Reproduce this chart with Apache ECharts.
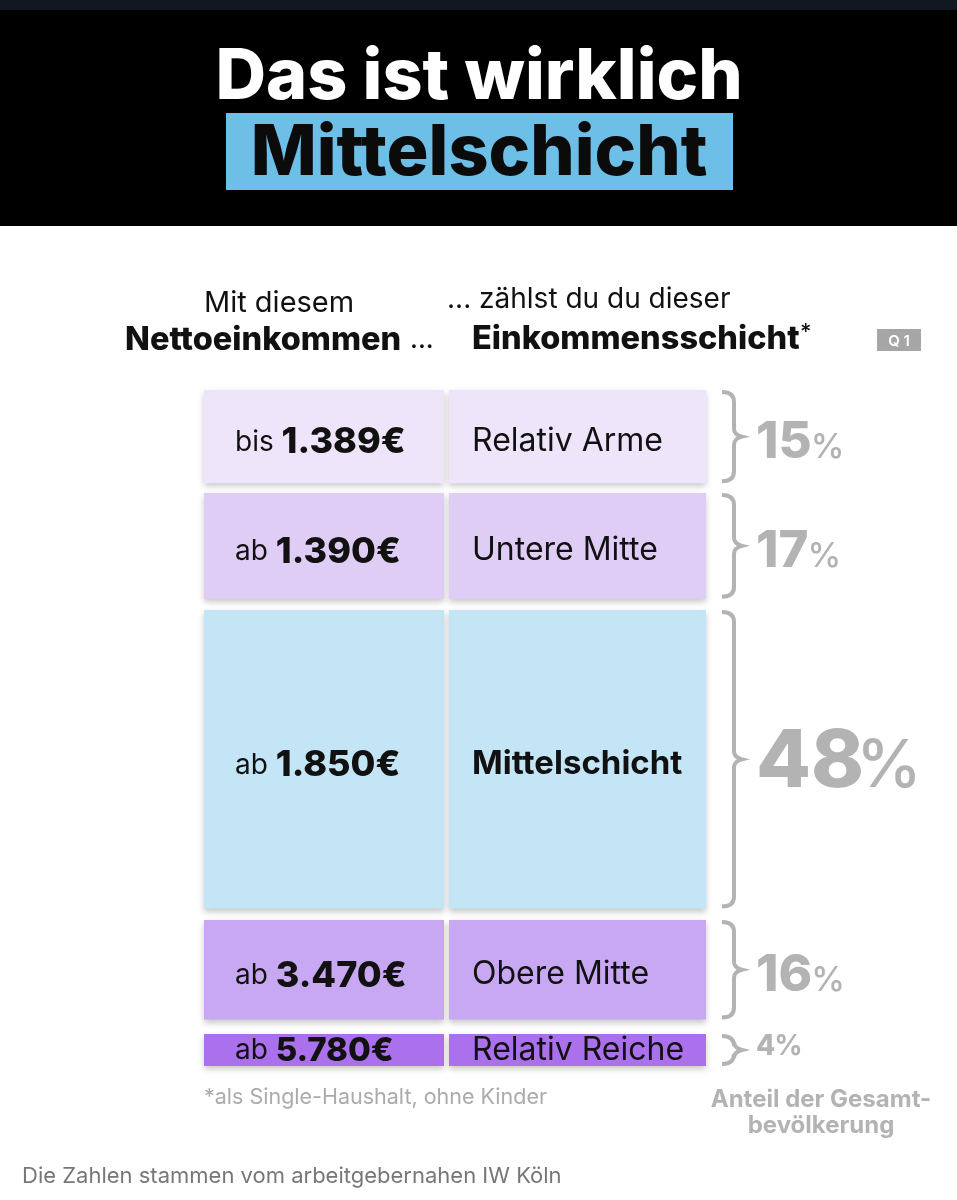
<!DOCTYPE html>
<html>
<head>
<meta charset="utf-8">
<title>Das ist wirklich Mittelschicht</title>
<script src="https://cdn.jsdelivr.net/npm/echarts@6/dist/echarts.min.js"></script>
<style>
	html, body { margin: 0; padding: 0; background: #fff; }
	#main { width: 957px; height: 1200px; }
</style>
</head>
<body>
<div id="main"></div>
<script>
// chart data
var prefixes = ['bis', 'ab', 'ab', 'ab', 'ab'];
var incomes = ['1.389€', '1.390€', '1.850€', '3.470€', '5.780€'];
var classes = ['Relativ Arme', 'Untere Mitte', 'Mittelschicht', 'Obere Mitte', 'Relativ Reiche'];
var shares = [15, 17, 48, 16, 4];

// row styling and spacing
var rowColors = ['#efe5fa', '#e0cdf6', '#c3e5f5', '#c9a8f3', '#ab70ec'];
var rowGaps = [0, 9.7, 11.3, 11.4, 14.5];
var minRowHeight = 32;
var splitAt = 240;	// first column width in px
var columnGap = 5;
var FONT = 'Inter, "Noto Sans", sans-serif';

// cumulative start of every row
var starts = [];
var sum = 0;
for (var i = 0; i < shares.length; i++) {
	starts.push(sum);
	sum += shares[i];
}
var chartData = shares.map(function(s, i) {
	return [starts[i], s];
});

var measureCtx = document.createElement('canvas').getContext('2d');
function textWidth(text, font) {
	measureCtx.font = font;
	return measureCtx.measureText(text).width;
}

function renderRow(params, api) {
	var idx = params.dataIndex;
	var left = api.coord([0, 0])[0];
	var right = api.coord([100, 0])[0];
	var gap = 0;
	for (var g = 0; g <= idx; g++) gap += rowGaps[g];
	var top = api.coord([0, api.value(0)])[1] + gap;
	var h = Math.max(api.size([0, api.value(1)])[1], minRowHeight);
	var bottom = top + h;
	var mid = top + h / 2;
	var big = shares[idx] > 30;
	var small = shares[idx] < 10;
	var cellStyle = { fill: rowColors[idx], shadowBlur: 6, shadowOffsetY: 3, shadowColor: 'rgba(0,0,0,0.22)' };
	var bx = right + 16;
	var vx = bx + 12;
	var textDy = small ? 1 : 6;
	var numSize = big ? 80 : small ? 28 : 51;
	var pctSize = big ? 66 : small ? 28 : 34;
	var numFont = '800 ' + numSize + 'px ' + FONT;
	var pctFont = (small ? '700 ' : '500 ') + pctSize + 'px ' + FONT;
	// number and percent sign sit on one baseline
	var baseline = small ? mid + 5 : mid + (big ? -1 : 3) + numSize * 0.36;
	var numY = baseline - numSize * 0.30;
	var pctY = baseline - pctSize * 0.30;
	var numX = right + 50;
	var pctX = numX + textWidth(String(shares[idx]), numFont) + (big ? -8 : -1);
	var boldSize = small ? 33 : 36;
	return {
		type: 'group',
		children: [
			{ type: 'rect', shape: { x: left, y: top, width: splitAt, height: h }, style: cellStyle },
			{ type: 'rect', shape: { x: left + splitAt + columnGap, y: top, width: right - left - splitAt - columnGap, height: h }, style: cellStyle },
			{
				type: 'path',
				shape: {
					pathData: 'M' + bx + ' ' + (top + 2) + ' Q' + vx + ' ' + (top + 2) + ' ' + vx + ' ' + (top + 12) +
						' L' + vx + ' ' + (mid - 8) + ' Q' + vx + ' ' + (mid - 2) + ' ' + (vx + 8) + ' ' + mid +
						' Q' + vx + ' ' + (mid + 2) + ' ' + vx + ' ' + (mid + 8) +
						' L' + vx + ' ' + (bottom - 12) + ' Q' + vx + ' ' + (bottom - 2) + ' ' + bx + ' ' + (bottom - 2),
					x: bx, y: top, width: 20, height: h
				},
				style: { fill: 'none', stroke: '#b3b3b3', lineWidth: 4 }
			},
			{
				type: 'text',
				style: {
					x: left + 31, y: mid + textDy,
					text: '{a|' + prefixes[idx] + ' }{b|' + incomes[idx] + '}',
					verticalAlign: 'middle',
					rich: {
						a: { font: '400 28px ' + FONT, fill: '#111' },
						b: { font: '800 ' + boldSize + 'px ' + FONT, fill: '#111' }
					}
				}
			},
			{
				type: 'text',
				style: {
					x: left + splitAt + 28, y: mid + textDy - 1,
					text: classes[idx],
					verticalAlign: 'middle',
					font: (big ? '700 33px ' : '400 32px ') + FONT,
					fill: '#111'
				}
			},
			{
				type: 'text',
				style: { x: numX, y: numY, text: String(shares[idx]), verticalAlign: 'middle', font: numFont, fill: '#b3b3b3' }
			},
			{
				type: 'text',
				style: { x: pctX, y: pctY, text: '%', verticalAlign: 'middle', font: pctFont, fill: '#b3b3b3' }
			}
		]
	};
}

function txt(x, y, text, size, weight, color, align) {
	return {
		type: 'text', x: x, y: y,
		style: { text: text, font: weight + ' ' + size + 'px ' + FONT, fill: color, align: align || 'left', verticalAlign: 'middle' }
	};
}

var myChart = echarts.init(document.getElementById('main'), null, { renderer: 'canvas' });
var option = {
	animation: false,
	backgroundColor: '#fff',
	grid: { left: 204, top: 390, width: 502, height: 622 },
	xAxis: { type: 'value', min: 0, max: 100, show: false },
	yAxis: { type: 'value', min: 0, max: 100, inverse: true, show: false },
	graphic: [
		{ type: 'rect', shape: { x: 0, y: 0, width: 957, height: 226 }, style: { fill: '#000' } },
		{ type: 'rect', shape: { x: 0, y: 0, width: 957, height: 10 }, style: { fill: '#12181f' } },
		{ type: 'rect', shape: { x: 226, y: 113, width: 507, height: 77 }, style: { fill: '#6dbfe8' } },
		txt(479, 78, 'Das ist wirklich', 70, 800, '#fff', 'center'),
		txt(479, 154, 'Mittelschicht', 70, 800, '#0b0b0b', 'center'),
		txt(204, 303, 'Mit diesem', 29, 400, '#111'),
		txt(125, 340, 'Nettoeinkommen', 32.5, 800, '#111'),
		txt(410, 340, '...', 26, 500, '#111'),
		txt(447, 300, '... zählst du du dieser', 28, 400, '#111'),
		txt(472, 339, 'Einkommensschicht', 32.5, 800, '#111'),
		txt(800, 332, '*', 22, 500, '#111'),
		{ type: 'rect', shape: { x: 877, y: 329, width: 44, height: 22 }, style: { fill: '#a6a6a6' } },
		txt(899, 341, 'Q 1', 15, 600, '#fff', 'center'),
		txt(204, 1098, '*als Single-Haushalt, ohne Kinder', 21.5, 400, '#ababab'),
		txt(821, 1100, 'Anteil der Gesamt-', 24, 700, '#b3b3b3', 'center'),
		txt(821, 1126, 'bevölkerung', 24, 700, '#b3b3b3', 'center'),
		txt(22, 1176, 'Die Zahlen stammen vom arbeitgebernahen IW Köln', 22, 400, '#777')
	],
	series: [{
		type: 'custom',
		renderItem: renderRow,
		clip: false,
		encode: { x: -1, y: 0 },
		data: chartData
	}]
};
myChart.setOption(option);
</script>
</body>
</html>
